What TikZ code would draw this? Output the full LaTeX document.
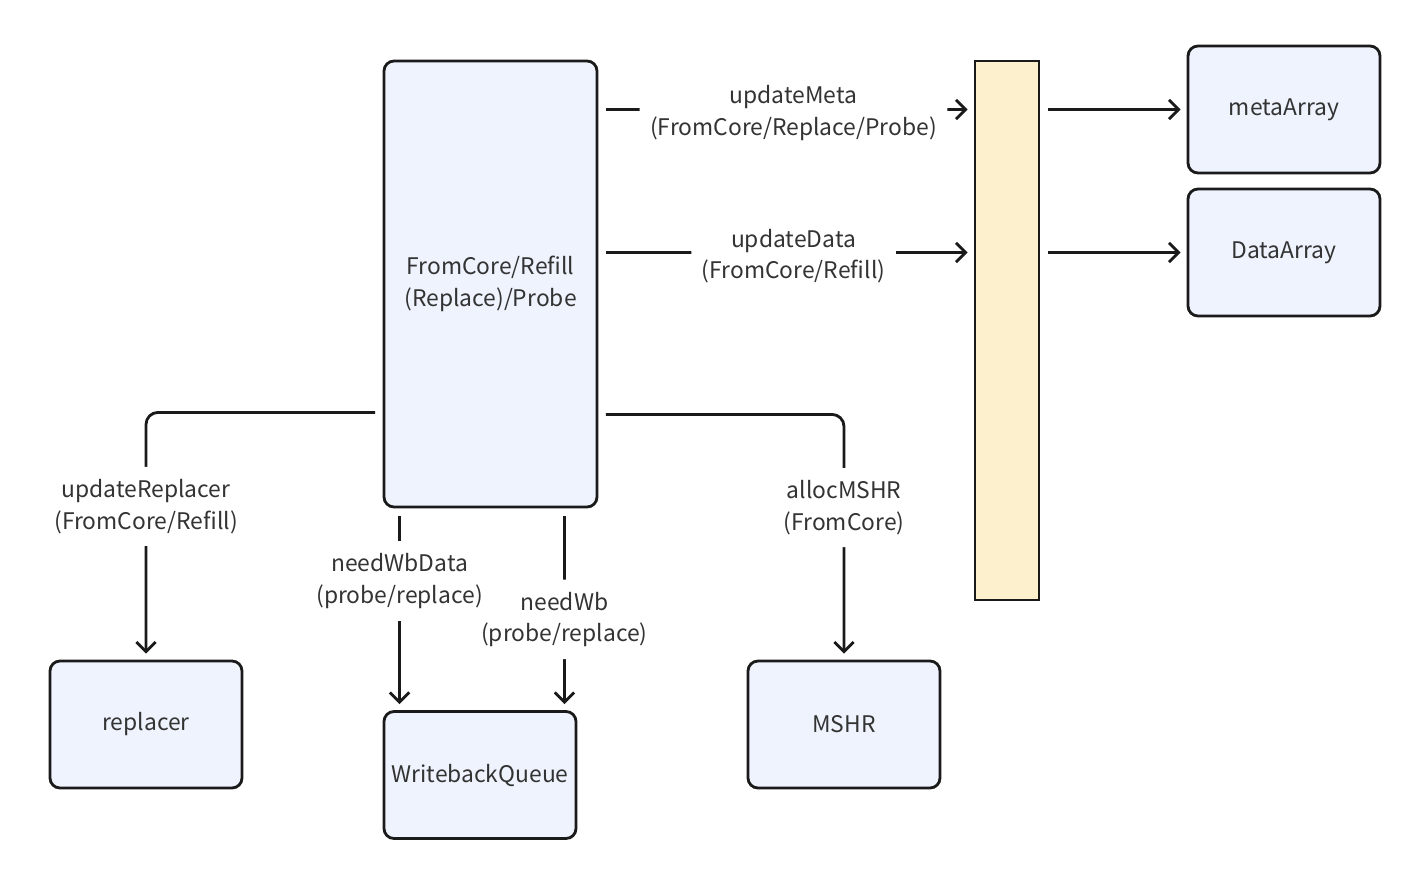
\documentclass[tikz,border=0pt]{standalone}
\usepackage{fontspec}
\setmainfont{Noto Sans CJK SC}
\usetikzlibrary{arrows.meta}
\definecolor{boxblue}{HTML}{EEF3FD}
\definecolor{baryellow}{HTML}{FDF0CD}
\definecolor{ink}{HTML}{1A1A1A}
\definecolor{txt}{HTML}{333333}
\begin{document}
\begin{tikzpicture}[
    blk/.style={draw=ink,rectangle,rounded corners=2mm,line width=1.6pt,fill=boxblue,text=txt,font=\fontsize{13}{18}\selectfont,minimum width=3.84cm,minimum height=2.54cm,align=center},
    bus/.style={draw=ink,rectangle,line width=1.6pt,fill=baryellow,minimum width=1.28cm,minimum height=10.78cm},
    sig/.style={draw=ink,line width=1.6pt,-{Straight Barb[length=5.5pt,width=11pt]},shorten <=0.15cm,shorten >=0.12cm,rounded corners=2.4mm},
    lbl/.style={fill=white,text=txt,font=\fontsize{13}{18}\selectfont,align=center,inner sep=6pt},
    vlbl/.style={lbl,inner xsep=1pt,inner ysep=7pt}
  ]
  \useasboundingbox (0,0) rectangle (28.46,-17.66);
  \node[blk,minimum width=4.26cm,minimum height=8.92cm] (core) at (9.81,-5.68) {FromCore/Refill\\(Replace)/Probe};
  \node[bus] (bus) at (20.14,-6.61) {};
  \node[blk] (meta) at (25.68,-2.19) {metaArray};
  \node[blk] (data) at (25.68,-5.05) {DataArray};
  \node[blk] (repl) at (2.92,-14.49) {replacer};
  \node[blk] (wbq) at (9.60,-15.50) {WritebackQueue};
  \node[blk] (mshr) at (16.88,-14.49) {MSHR};
  \coordinate (replsrc) at ([yshift=1.92cm]core.south west);
  \coordinate (mshrsrc) at ([yshift=1.88cm]core.south east);
  \coordinate (wbdsrc) at ([xshift=0.34cm]core.south west);
  \coordinate (wbsrc) at ([xshift=-0.68cm]core.south east);
  \draw[sig] (core.east |- meta.west) -- node[lbl,pos=0.52,yshift=-2pt] {updateMeta\\(FromCore/Replace/Probe)} (bus.west |- meta.west);
  \draw[sig] (core.east |- data.west) -- node[lbl,pos=0.52,yshift=-2pt] {updateData\\(FromCore/Refill)} (bus.west |- data.west);
  \draw[sig] (bus.east |- meta.west) -- (meta.west);
  \draw[sig] (bus.east |- data.west) -- (data.west);
  \draw[sig] (replsrc) -| node[vlbl,pos=0.69] {updateReplacer\\(FromCore/Refill)} (repl.north);
  \draw[sig] (mshrsrc) -| node[vlbl,pos=0.69] {allocMSHR\\(FromCore)} (mshr.north);
  \draw[sig] (wbsrc) -- node[vlbl,pos=0.55] {needWb\\(probe/replace)} (wbsrc |- wbq.north);
  \draw[sig] (wbdsrc) -- node[vlbl,pos=0.36] {needWbData\\(probe/replace)} (wbdsrc |- wbq.north);
\end{tikzpicture}
\end{document}
